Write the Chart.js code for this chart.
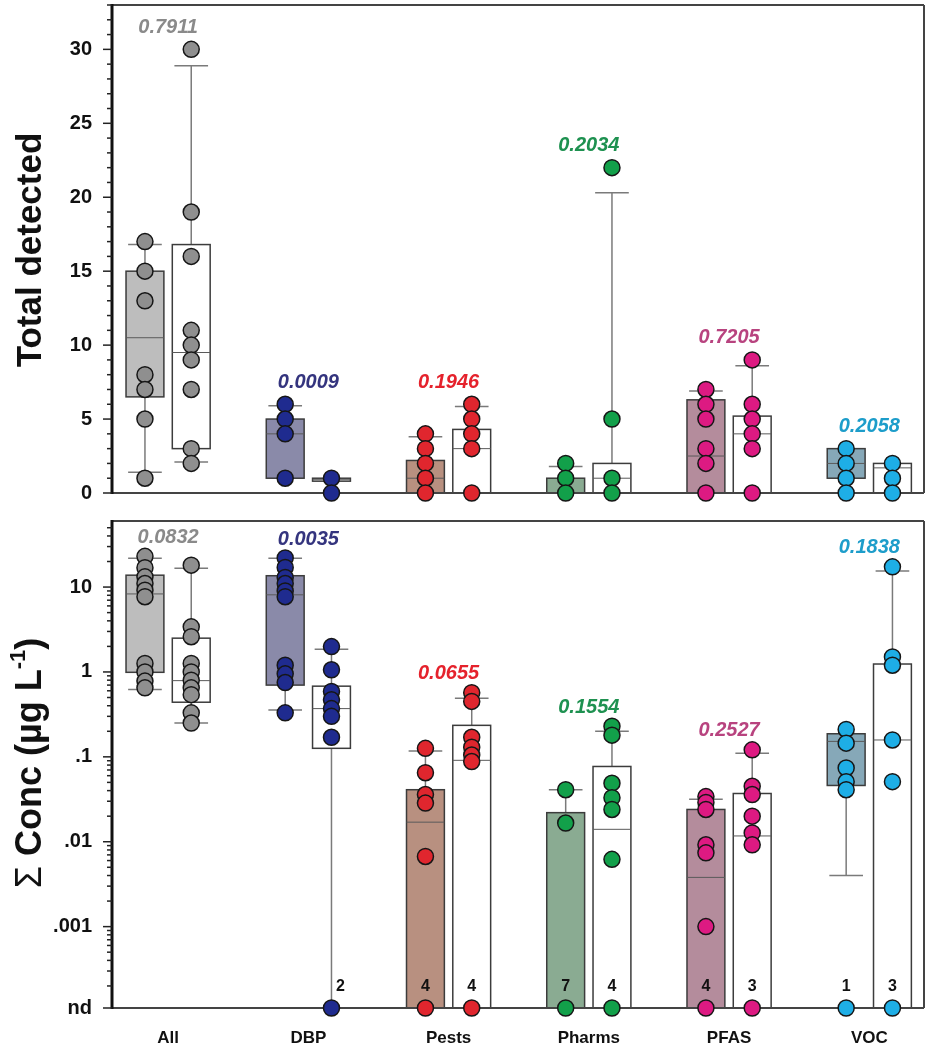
<!DOCTYPE html>
<html>
<head>
<meta charset="utf-8">
<script src="https://cdn.jsdelivr.net/npm/chart.js@4.4.1/dist/chart.umd.min.js"></script>
<style>
  html, body { margin: 0; padding: 0; background: #fff; }
  #wrap { position: relative; width: 932px; height: 1050px; }
  #cTop { position: absolute; left: 0; top: 0; }
  #cBot { position: absolute; left: 0; top: 510px; }
</style>
</head>
<body>
<div id="wrap">
  <canvas id="cTop" width="932" height="510"></canvas>
  <canvas id="cBot" width="932" height="540"></canvas>
</div>
<script>
const groups = ["All", "DBP", "Pests", "Pharms", "PFAS", "VOC"];

// Total detected: points (A = shaded box, B = open box)
const detPtsA = [[17, 15, 13, 8, 7, 5, 1], [6, 5, 4, 1], [4, 3, 2, 1, 0], [2, 1, 0], [7, 6, 5, 3, 2, 0], [3, 2, 1, 0]];
const detPtsB = [[30, 19, 16, 11, 10, 9, 7, 3, 2], [1, 0], [6, 5, 4, 3, 0], [22, 5, 1, 0], [9, 6, 5, 4, 3, 0], [2, 1, 0]];
// box stats: [low cap, q1, median, q3, high cap]
const detBoxA = [[1.4, 6.5, 10.5, 15, 16.8], [1, 1, 4, 5, 5.9], [0, 0, 1, 2.2, 3.8], [0, 0, 0, 1, 1.8], [0, 0, 2.5, 6.3, 6.9], [1, 1, 2, 3, 3]];
const detBoxB = [[2.1, 3, 9.5, 16.8, 28.9], [0.8, 0.8, 0.9, 1, 1], [0, 0, 3, 4.3, 5.85], [0, 0, 1, 2, 20.3], [0, 0, 4, 5.2, 8.6], [0, 0, 1.7, 2, 2]];
const detP = ["0.7911", "0.0009", "0.1946", "0.2034", "0.7205", "0.2058"];
const detTicks = [0, 5, 10, 15, 20, 25, 30];

// Sum conc (ug/L), 0 = nd
const concPtsA = [
  [23, 16.9, 13.2, 11, 9.2, 7.7, 1.26, 1.0, 0.78, 0.65],
  [22, 17, 13, 11, 9, 7.7, 1.2, 0.95, 0.75, 0.33],
  [0.126, 0.065, 0.036, 0.0285, 0.0067, 0],
  [0.041, 0.0166, 0],
  [0.034, 0.029, 0.024, 0.0092, 0.0074, 0.001, 0],
  [0.21, 0.145, 0.074, 0.051, 0.041, 0],
];
const concPtsB = [
  [18.1, 3.4, 2.6, 1.26, 1.0, 0.8, 0.65, 0.54, 0.33, 0.25],
  [1.99, 1.06, 0.59, 0.47, 0.37, 0.3, 0.17, 0],
  [0.57, 0.45, 0.17, 0.13, 0.105, 0.088, 0],
  [0.23, 0.18, 0.049, 0.033, 0.024, 0.0062, 0],
  [0.121, 0.045, 0.036, 0.02, 0.0127, 0.0092, 0],
  [17.3, 1.5, 1.2, 0.158, 0.051, 0],
];
const concBoxA = [[0.62, 0.99, 8.3, 13.8, 21.8], [0.357, 0.7, 8.1, 13.6, 21.8], [0, 0, 0.017, 0.041, 0.117], [0, 0, 0, 0.022, 0.041], [0, 0, 0.0038, 0.024, 0.0316], [0.004, 0.046, 0.152, 0.187, 0.187]];
const concBoxB = [[0.25, 0.44, 0.79, 2.5, 16.6], [0, 0.126, 0.37, 0.68, 1.85], [0, 0, 0.091, 0.235, 0.49], [0, 0, 0.014, 0.077, 0.2], [0, 0, 0.0117, 0.037, 0.11], [0, 0, 0.158, 1.24, 15.5]];
const concP = ["0.0832", "0.0035", "0.0655", "0.1554", "0.2527", "0.1838"];
const ndCountA = ["", "", "4", "7", "4", "1"];
const ndCountB = ["", "2", "4", "4", "3", "3"];
const ND = 1.1e-4;
const concTicks = [ND, 0.001, 0.01, 0.1, 1, 10];
const concTickLabels = ["nd", ".001", ".01", ".1", "1", "10"];

const ptColors = ["#8f8f8f", "#1f2b8f", "#e0262e", "#12a04a", "#dd1a82", "#1eaee6"];
const boxFills = ["#bdbdbd", "#8a8aa9", "#b89080", "#8aab92", "#b48c9c", "#86a8b8"];
const pColors = ["#8a8a8a", "#34347e", "#e5222c", "#1e9150", "#b8437f", "#1d9dca"];

const FONT = '"Liberation Sans", Arial, sans-serif';
const OFF = 0.165, HALF = 0.135, CAP = 0.12;

function line(ctx, x1, y1, x2, y2) {
  ctx.beginPath();
  ctx.moveTo(x1, y1);
  ctx.lineTo(x2, y2);
  ctx.stroke();
}

function noPad(s) {
  s.paddingTop = 0;
  s.paddingBottom = 0;
  s.paddingLeft = 0;
  s.paddingRight = 0;
}

function panelPlugin(p) {
  return {
    id: "panel",
    beforeDatasetsDraw(chart) {
      const { ctx, chartArea: a, scales: { x, y } } = chart;
      const Y = (v) => y.getPixelForValue(p.map(v));
      ctx.save();
      groups.forEach((g, i) => {
        [[p.boxA, -OFF, boxFills[i]], [p.boxB, OFF, "#ffffff"]].forEach(([bx, off, fill]) => {
          const [lo, q1, med, q3, hi] = bx[i];
          const cx = x.getPixelForValue(i + off);
          const l = x.getPixelForValue(i + off - HALF);
          const r = x.getPixelForValue(i + off + HALF);
          const cl = x.getPixelForValue(i + off - CAP);
          const cr = x.getPixelForValue(i + off + CAP);
          // whiskers
          ctx.strokeStyle = "#7a7a7a";
          ctx.lineWidth = 1.5;
          if (hi > q3) { line(ctx, cx, Y(hi), cx, Y(q3)); line(ctx, cl, Y(hi), cr, Y(hi)); }
          if (lo < q1) { line(ctx, cx, Y(q1), cx, Y(lo)); line(ctx, cl, Y(lo), cr, Y(lo)); }
          // box
          const top = Y(q3), bot = Y(q1);
          ctx.fillStyle = fill;
          ctx.fillRect(l, top, r - l, bot - top);
          ctx.strokeStyle = "#3c3c3c";
          ctx.lineWidth = 1.5;
          ctx.strokeRect(l, top, r - l, bot - top);
          ctx.strokeStyle = "#5a5a5a";
          ctx.lineWidth = 1;
          line(ctx, l, Y(med), r, Y(med));
        });
      });
      // frame
      ctx.strokeStyle = "#444";
      ctx.lineWidth = 2;
      line(ctx, a.left, a.top, a.right, a.top);
      line(ctx, a.right, a.top, a.right, a.bottom);
      line(ctx, a.left, a.bottom, a.right, a.bottom);
      ctx.strokeStyle = "#111";
      ctx.lineWidth = 3;
      line(ctx, a.left, a.top - 1, a.left, a.bottom + 1);
      ctx.restore();
    },
    afterDatasetsDraw(chart) {
      const { ctx, chartArea: a, scales: { x, y } } = chart;
      const Y = (v) => y.getPixelForValue(p.map(v));
      ctx.save();
      // tick marks
      ctx.strokeStyle = "#222";
      ctx.lineWidth = 1.5;
      y.ticks.forEach((t) => {
        const py = y.getPixelForValue(t.value);
        line(ctx, a.left - (t.label ? 9 : 5), py, a.left, py);
      });
      // p-values
      ctx.textAlign = "center";
      ctx.textBaseline = "middle";
      ctx.font = "italic bold 20px " + FONT;
      groups.forEach((g, i) => {
        const vals = [...p.ptsA[i], ...p.ptsB[i], p.boxA[i][4], p.boxB[i][4]];
        const topPx = Math.min(...vals.map(Y));
        ctx.fillStyle = pColors[i];
        ctx.fillText(p.pvals[i], x.getPixelForValue(i), topPx - p.pGap);
      });
      // nd counts
      if (p.counts) {
        ctx.font = "bold 16px " + FONT;
        ctx.fillStyle = "#111";
        groups.forEach((g, i) => {
          [[p.counts[0][i], -OFF, p.boxA[i]], [p.counts[1][i], OFF, p.boxB[i]]].forEach(([c, off, bx]) => {
            if (!c) return;
            const shift = bx[0] <= 0 && bx[1] > 0 ? 9 : 0;
            ctx.fillText(c, x.getPixelForValue(i + off) + shift, a.bottom - 21);
          });
        });
      }
      // axis title
      ctx.translate(31, p.titleY);
      ctx.rotate(-Math.PI / 2);
      ctx.fillStyle = "#111";
      ctx.textBaseline = "middle";
      if (p.title) {
        ctx.textAlign = "center";
        ctx.font = "bold 35px " + FONT;
        ctx.fillText(p.title, 0, 0);
      } else {
        const f1 = "36px " + FONT, f2 = "bold 36px " + FONT, f3 = "bold 22px " + FONT;
        const parts = [["\u03A3 ", f1, 0], ["Conc (\u00B5g L", f2, 0], ["-1", f3, -12], [")", f2, 0]];
        let w = 0;
        parts.forEach(([t, f]) => { ctx.font = f; w += ctx.measureText(t).width; });
        let px = -w / 2;
        ctx.textAlign = "left";
        parts.forEach(([t, f, dy]) => {
          ctx.font = f;
          ctx.fillText(t, px, dy);
          px += ctx.measureText(t).width;
        });
      }
      ctx.restore();
    },
  };
}

function scatterSets(ptsA, ptsB, map) {
  const sets = [];
  groups.forEach((g, i) => {
    [[ptsA[i], -OFF], [ptsB[i], OFF]].forEach(([pts, off]) => {
      sets.push({
        data: pts.map((v) => ({ x: i + off, y: map(v) })),
        pointRadius: 8,
        pointBackgroundColor: ptColors[i],
        pointBorderColor: "#161616",
        pointBorderWidth: 1.5,
        clip: false,
      });
    });
  });
  return sets;
}

const tickFont = { family: FONT, size: 20, weight: "bold" };

// top panel
const mapDet = (v) => v;
new Chart(document.getElementById("cTop"), {
  type: "scatter",
  data: { datasets: scatterSets(detPtsA, detPtsB, mapDet) },
  options: {
    responsive: false,
    animation: false,
    events: [],
    layout: { autoPadding: false, padding: { left: 0, top: 5, right: 8, bottom: 17 } },
    plugins: { legend: { display: false }, tooltip: { enabled: false } },
    scales: {
      x: { type: "linear", min: -0.4, max: 5.39, display: false },
      y: {
        type: "linear",
        min: 0,
        max: 33,
        afterFit: (s) => { s.width = 112; noPad(s); },
        afterBuildTicks: (s) => {
          const t = [];
          for (let v = 0; v <= 33; v++) t.push({ value: v });
          s.ticks = t;
        },
        grid: { display: false, drawTicks: false },
        border: { display: false },
        ticks: {
          autoSkip: false,
          padding: 20,
          color: "#111",
          font: tickFont,
          callback: (v) => (detTicks.includes(v) ? String(v) : ""),
        },
      },
    },
  },
  plugins: [panelPlugin({
    map: mapDet, ptsA: detPtsA, ptsB: detPtsB, boxA: detBoxA, boxB: detBoxB,
    pvals: detP, pGap: 22, title: "Total detected", titleY: 250,
  })],
});

// bottom panel
const CONC_MAX = 60;
const mapConc = (v) => (v <= 0 ? ND : v);
new Chart(document.getElementById("cBot"), {
  type: "scatter",
  data: { datasets: scatterSets(concPtsA, concPtsB, mapConc) },
  options: {
    responsive: false,
    animation: false,
    events: [],
    layout: { autoPadding: false, padding: { left: 0, top: 11, right: 8, bottom: 0 } },
    plugins: { legend: { display: false }, tooltip: { enabled: false } },
    scales: {
      x: {
        type: "linear",
        min: -0.4,
        max: 5.39,
        afterFit: (s) => { s.height = 42; noPad(s); },
        afterBuildTicks: (s) => { s.ticks = groups.map((g, i) => ({ value: i })); },
        grid: { display: false, drawTicks: false },
        border: { display: false },
        ticks: {
          autoSkip: false,
          maxRotation: 0,
          padding: 20,
          color: "#111",
          font: { family: FONT, size: 17, weight: "bold" },
          callback: (v) => groups[v] ?? "",
        },
      },
      y: {
        type: "logarithmic",
        min: ND,
        max: CONC_MAX,
        afterFit: (s) => { s.width = 112; noPad(s); },
        afterBuildTicks: (s) => {
          const vals = [...concTicks];
          for (let e = -4; e <= 1; e++) {
            for (let m = 2; m <= 9; m++) {
              const v = m * Math.pow(10, e);
              if (v > ND && v < CONC_MAX) vals.push(v);
            }
          }
          s.ticks = vals.sort((a, b) => a - b).map((v) => ({ value: v }));
        },
        grid: { display: false, drawTicks: false },
        border: { display: false },
        ticks: {
          autoSkip: false,
          padding: 20,
          color: "#111",
          font: tickFont,
          callback: (v) => {
            const k = concTicks.findIndex((t) => Math.abs(t - v) / t < 1e-6);
            return k >= 0 ? concTickLabels[k] : "";
          },
        },
      },
    },
  },
  plugins: [panelPlugin({
    map: mapConc, ptsA: concPtsA, ptsB: concPtsB, boxA: concBoxA, boxB: concBoxB,
    pvals: concP, pGap: 19, counts: [ndCountA, ndCountB], titleY: 253,
  })],
});
</script>
</body>
</html>
